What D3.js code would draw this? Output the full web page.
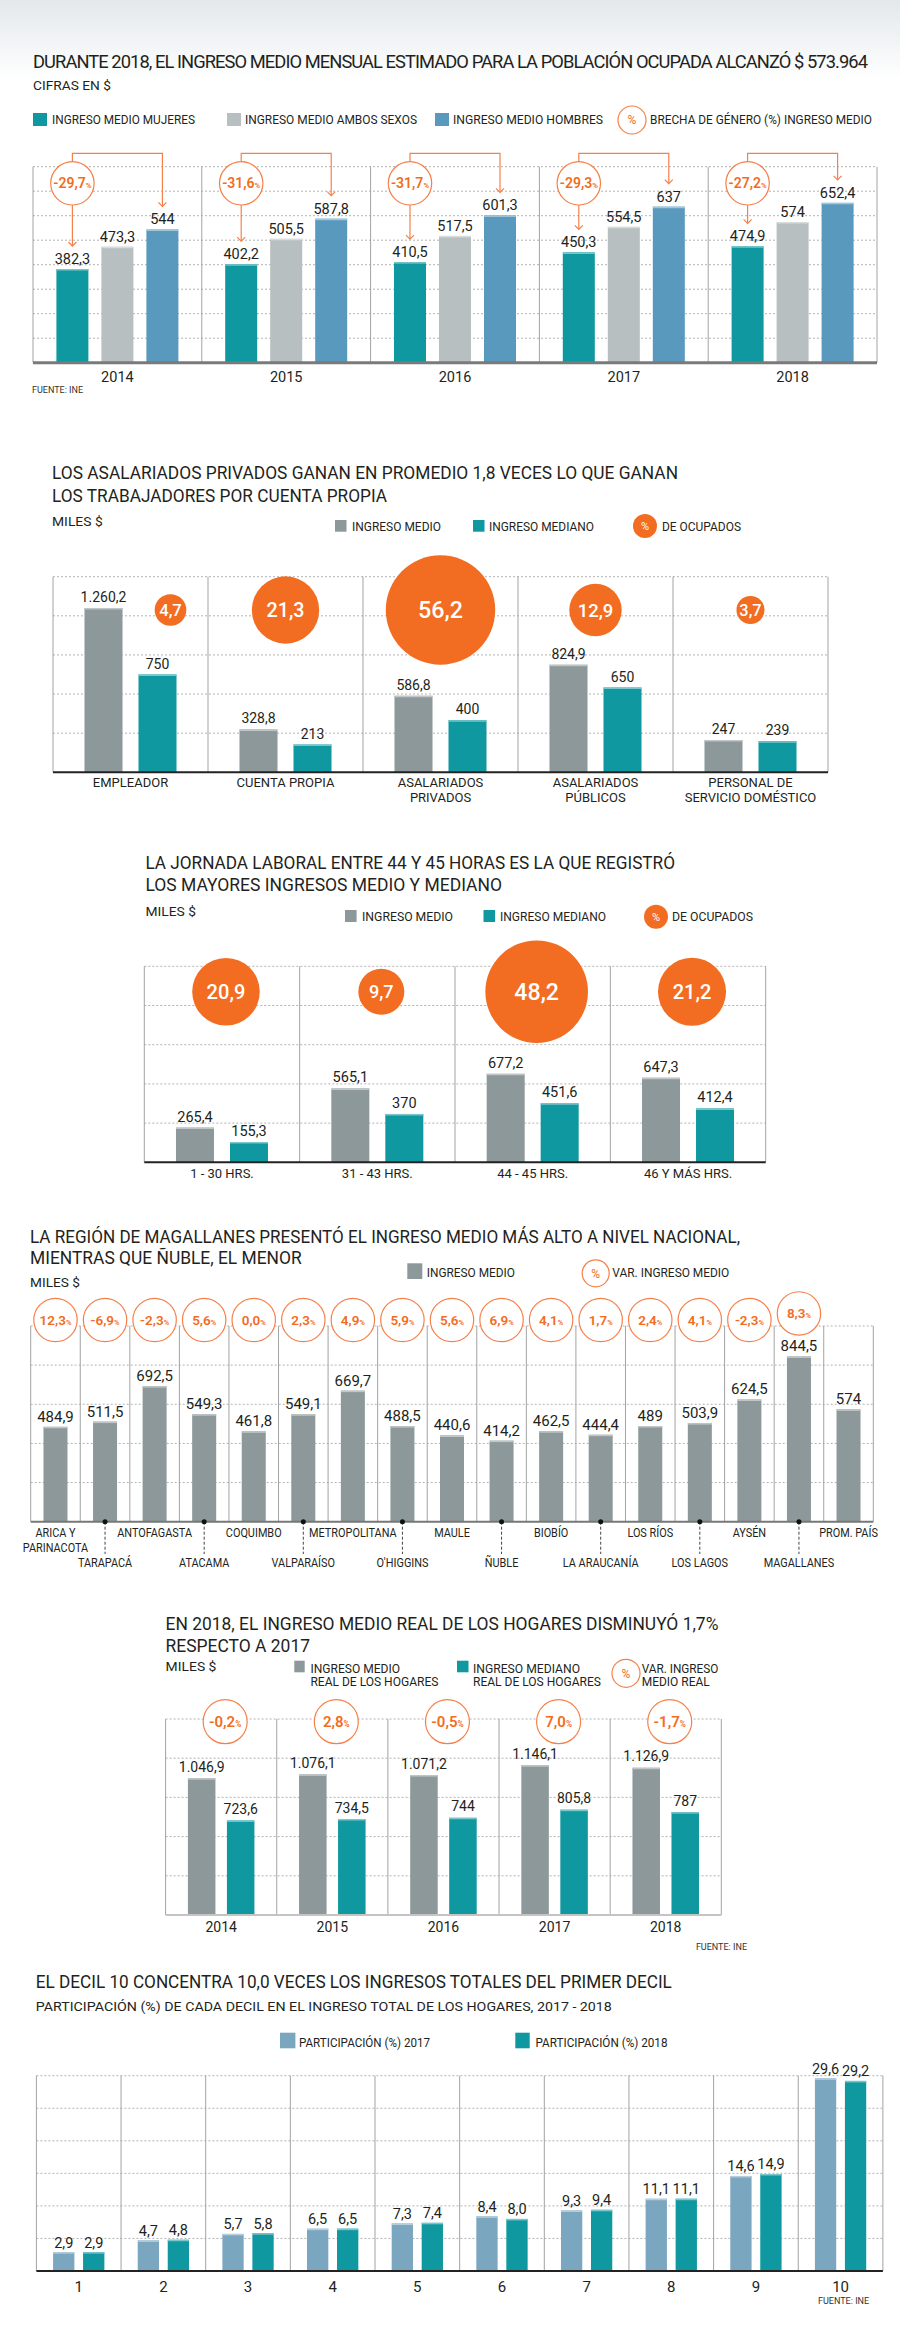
<!DOCTYPE html>
<html><head><meta charset="utf-8">
<script src="https://cdn.jsdelivr.net/npm/d3@7"></script>
<style>body{margin:0;background:#fff} text{font-family:Roboto,"Noto Sans",sans-serif}</style>
</head><body><svg id="c" width="900" height="2330"></svg>
<script>
// ---------- DATA ----------
const c1Years = ["2014","2015","2016","2017","2018"];
const c1Mujeres = [382.3, 402.2, 410.5, 450.3, 474.9];
const c1Ambos = [473.3, 505.5, 517.5, 554.5, 574];
const c1Hombres = [544, 587.8, 601.3, 637, 652.4];
const c1Brecha = [-29.7, -31.6, -31.7, -29.3, -27.2];
const c1Ticks = [100,200,300,400,500,600,700,800];

const c2Cats = [["EMPLEADOR"],["CUENTA PROPIA"],["ASALARIADOS","PRIVADOS"],["ASALARIADOS","PÚBLICOS"],["PERSONAL DE","SERVICIO DOMÉSTICO"]];
const c2Medio = [1260.2, 328.8, 586.8, 824.9, 247];
const c2Mediano = [750, 213, 400, 650, 239];
const c2Ocupados = [4.7, 21.3, 56.2, 12.9, 3.7];
const c2Ticks = [300,600,900,1200,1500];

const c3Cats = ["1 - 30 HRS.","31 - 43 HRS.","44 - 45 HRS.","46 Y MÁS HRS."];
const c3Medio = [265.4, 565.1, 677.2, 647.3];
const c3Mediano = [155.3, 370, 451.6, 412.4];
const c3Ocupados = [20.9, 9.7, 48.2, 21.2];
const c3Ticks = [300,600,900,1200,1500];

const c4Regions = [["ARICA Y","PARINACOTA"],["TARAPACÁ"],["ANTOFAGASTA"],["ATACAMA"],["COQUIMBO"],["VALPARAÍSO"],["METROPOLITANA"],["O'HIGGINS"],["MAULE"],["ÑUBLE"],["BIOBÍO"],["LA ARAUCANÍA"],["LOS RÍOS"],["LOS LAGOS"],["AYSÉN"],["MAGALLANES"],["PROM. PAÍS"]];
const c4Medio = [484.9, 511.5, 692.5, 549.3, 461.8, 549.1, 669.7, 488.5, 440.6, 414.2, 462.5, 444.4, 489, 503.9, 624.5, 844.5, 574];
const c4Var = [12.3, -6.9, -2.3, 5.6, 0.0, 2.3, 4.9, 5.9, 5.6, 6.9, 4.1, 1.7, 2.4, 4.1, -2.3, 8.3, null];
const c4Ticks = [200,400,600,800,1000];

const c5Years = ["2014","2015","2016","2017","2018"];
const c5Medio = [1046.9, 1076.1, 1071.2, 1146.1, 1126.9];
const c5Mediano = [723.6, 734.5, 744, 805.8, 787];
const c5Var = [-0.2, 2.8, -0.5, 7.0, -1.7];
const c5Ticks = [300,600,900,1200,1500];

const c6Deciles = ["1","2","3","4","5","6","7","8","9","10"];
const c6P2017 = [2.9, 4.7, 5.7, 6.5, 7.3, 8.4, 9.3, 11.1, 14.6, 29.6];
const c6P2018 = [2.9, 4.8, 5.8, 6.5, 7.4, 8.0, 9.4, 11.1, 14.9, 29.2];
const c6Ticks = [5,10,15,20,25,30];

// ---------- HELPERS ----------
const svg = d3.select("#c");
const loc = d3.formatLocale({decimal:",", thousands:".", grouping:[3], currency:["$",""], minus:"-"});
const f1 = loc.format(",.1f"), fInt = loc.format(",d");
const fmtVal = v => Number.isInteger(v) ? fInt(v) : f1(v);
const fPct = loc.format(".1f");
const C = {teal:"#0f989f", light:"#b7bfc0", blue:"#5899bd", gray:"#8c9899", orange:"#f26c22", oline:"#f5814a", blue17:"#7ba6c0", text:"#231f20"};

function txt(g, x, y, s, o={}) {
  const t = g.append("text").attr("x",x).attr("y",y).text(s)
    .attr("font-size", o.size||13).attr("fill", o.fill||C.text)
    .attr("text-anchor", o.anchor||"start");
  if (o.weight) t.attr("font-weight", o.weight);
  if (o.ls) t.attr("letter-spacing", o.ls);
  if (o.width) t.attr("textLength", o.width).attr("lengthAdjust","spacingAndGlyphs");
  if (o.k) { const w = t.node().getComputedTextLength(); t.attr("textLength", w*o.k).attr("lengthAdjust","spacingAndGlyphs"); }
  return t;
}
function swatch(g, x, y, w, h, col) {
  g.append("rect").attr("x",x).attr("y",y).attr("width",w).attr("height",h).attr("fill",col);
}
function pctCircle(g, cx, cy, r, filled, size) {
  g.append("circle").attr("cx",cx).attr("cy",cy).attr("r",r)
    .attr("fill", filled ? C.orange : "#fff").attr("stroke", filled ? "none" : C.oline).attr("stroke-width",1.2);
  txt(g, cx, cy + size*0.36, "%", {size:size, anchor:"middle", fill: filled ? "#fff" : C.orange});
}
function valCircle(g, cx, cy, r, v, size) {
  g.append("circle").attr("cx",cx).attr("cy",cy).attr("r",r)
    .attr("fill","#fff").attr("stroke",C.oline).attr("stroke-width",1.2);
  const t = g.append("text").attr("x",cx).attr("y",cy+size*0.36).attr("text-anchor","middle")
    .attr("fill",C.orange).attr("font-size",size).attr("font-weight",600);
  t.append("tspan").text(fPct(v));
  t.append("tspan").attr("font-size",size*0.55).text("%");
}

function groupedChart(o) {
  const g = svg.append("g");
  const x = d3.scaleBand().domain(o.cats.map((d,i)=>i)).range([o.x0, o.x1]);
  const y = d3.scaleLinear().domain([0, o.yMax]).range([o.yBase, o.yTop]);
  const n = o.series.length;
  const span = n*o.barW + (n-1)*o.gap;
  const xi = d3.scaleBand().domain(d3.range(n)).range([-span/2, span/2])
    .paddingInner(n>1 ? o.gap/(o.barW+o.gap) : 0);
  const cx = i => x(i) + x.bandwidth()/2;
  const bx = (i,s) => cx(i) + xi(s);
  g.selectAll(null).data(o.ticks).join("line")
    .attr("x1", o.x0).attr("x2", o.x1).attr("y1", d=>y(d)).attr("y2", d=>y(d))
    .attr("stroke", "#b3b3b3").attr("stroke-width",1).attr("stroke-dasharray","2,2");
  const seps = o.cats.map((d,i)=>x(i)).concat([o.x1]);
  g.selectAll(null).data(seps).join("line")
    .attr("x1", d=>d).attr("x2", d=>d).attr("y1", y(o.yMax)).attr("y2", o.yBase)
    .attr("stroke", "#a3a3a3").attr("stroke-width", 1);
  o.series.forEach((vals, s) => {
    const col = o.colors[s];
    g.selectAll(null).data(vals).join("rect")
      .attr("x", (d,i)=>bx(i,s)).attr("y", d=>y(d))
      .attr("width", xi.bandwidth()).attr("height", d=>o.yBase - y(d))
      .attr("fill", col);
    g.selectAll(null).data(vals).join("line")
      .attr("x1", (d,i)=>bx(i,s)).attr("x2",(d,i)=>bx(i,s)+xi.bandwidth())
      .attr("y1", d=>y(d)+0.75).attr("y2", d=>y(d)+0.75)
      .attr("stroke", d3.interpolateRgb(col, "#fff")(0.45)).attr("stroke-width",1.5);
    g.selectAll(null).data(vals).join("text")
      .attr("x", (d,i)=>bx(i,s)+xi.bandwidth()/2).attr("y", d=>y(d)-o.labelGap)
      .attr("text-anchor","middle").attr("font-size", o.labelSize).attr("fill", C.text)
      .text(o.fmt);
  });
  g.append("line").attr("x1", o.x0).attr("x2", o.x1).attr("y1", o.yBase).attr("y2", o.yBase)
    .attr("stroke", o.baseColor).attr("stroke-width", o.baseW);
  return {g, x, y, xi, cx, bx};
}

// ---------- BACKGROUND ----------
const defs = svg.append("defs");
const lg = defs.append("linearGradient").attr("id","topgrad").attr("x1",0).attr("x2",0).attr("y1",0).attr("y2",1);
lg.append("stop").attr("offset","0%").attr("stop-color","#e3e8eb");
lg.append("stop").attr("offset","100%").attr("stop-color","#ffffff");
svg.append("rect").attr("x",0).attr("y",0).attr("width",900).attr("height",80).attr("fill","url(#topgrad)");

// ---------- CHART 1 ----------
{
  const g = svg.append("g");
  txt(g, 33, 68, "DURANTE 2018, EL INGRESO MEDIO MENSUAL ESTIMADO PARA LA POBLACIÓN OCUPADA ALCANZÓ $ 573.964", {size:18.5, ls:-0.95, width:834});
  txt(g, 33, 90, "CIFRAS EN $", {size:13, width:78});
  swatch(g, 33, 113, 14, 13, C.teal);
  txt(g, 52, 124, "INGRESO MEDIO MUJERES", {size:13, width:143});
  swatch(g, 227, 113, 14, 13, C.light);
  txt(g, 245, 124, "INGRESO MEDIO AMBOS SEXOS", {size:13, width:172});
  swatch(g, 435, 113, 14, 13, C.blue);
  txt(g, 453, 124, "INGRESO MEDIO HOMBRES", {size:13, width:150});
  pctCircle(g, 632, 120, 14, false, 12);
  txt(g, 650, 124, "BRECHA DE GÉNERO (%) INGRESO MEDIO", {size:13, width:222});

  const ch = groupedChart({cats:c1Years, series:[c1Mujeres,c1Ambos,c1Hombres], colors:[C.teal,C.light,C.blue],
    x0:33, x1:877, yTop:166.7, yBase:362.7, yMax:800, ticks:c1Ticks, barW:32, gap:13,
    labelSize:14.5, labelGap:5, fmt:fmtVal, baseColor:"#7a7a7a", baseW:3});
  c1Years.forEach((d,i)=> txt(ch.g, ch.cx(i), 381.7, d, {size:14.5, anchor:"middle"}));
  txt(ch.g, 32, 393, "FUENTE: INE", {size:9, fill:"#333"});

  const r = 21.7, cy = 183.3, topY = 153.3, bw = ch.xi.bandwidth();
  c1Brecha.forEach((v,i)=>{
    const xa = ch.bx(i,0)+bw/2, xb = ch.bx(i,2)+bw/2;
    const ta = ch.y(c1Mujeres[i]) - 23, tb = ch.y(c1Hombres[i]) - 23;
    const ln = d => ch.g.append("path").attr("d", d).attr("fill","none").attr("stroke",C.oline).attr("stroke-width",1.2);
    ln(`M${xa},${cy-r}V${topY}H${xb}V${tb}`);
    ln(`M${xa},${cy+r}V${ta}`);
    ln(`M${xa-4},${ta-4}L${xa},${ta}L${xa+4},${ta-4}`);
    ln(`M${xb-4},${tb-4}L${xb},${tb}L${xb+4},${tb-4}`);
    valCircle(ch.g, xa, cy, r, v, 14);
  });
}

// ---------- CHART 2 ----------
{
  const g = svg.append("g");
  txt(g, 52, 479.3, "LOS ASALARIADOS PRIVADOS GANAN EN PROMEDIO 1,8 VECES LO QUE GANAN", {size:18.5, width:626});
  txt(g, 52, 501.7, "LOS TRABAJADORES POR CUENTA PROPIA", {size:18.5, width:335});
  txt(g, 52, 526, "MILES $", {size:13, width:50.7});
  swatch(g, 335, 520, 11.5, 11.7, C.gray);
  txt(g, 352, 530.7, "INGRESO MEDIO", {size:13, width:89});
  swatch(g, 473, 520, 11.5, 11.7, C.teal);
  txt(g, 489, 530.7, "INGRESO MEDIANO", {size:13, width:105});
  pctCircle(g, 645, 526, 12, true, 11);
  txt(g, 662, 530.7, "DE OCUPADOS", {size:13, width:79});

  const ch = groupedChart({cats:c2Cats, series:[c2Medio,c2Mediano], colors:[C.gray,C.teal],
    x0:53, x1:828, yTop:576.7, yBase:772.3, yMax:1500, ticks:c2Ticks, barW:38, gap:16,
    labelSize:14, labelGap:6, fmt:fmtVal, baseColor:"#222", baseW:2});
  c2Cats.forEach((lines,i)=> lines.forEach((l,j)=> txt(ch.g, ch.cx(i), 786.7 + j*15, l, {size:13, anchor:"middle"})));
  const rs = d3.scaleSqrt().domain([0, 56.2]).range([0, 54.7]);
  c2Ocupados.forEach((v,i)=>{
    const bx = ch.cx(i) + (i===0 ? 40 : 0), by = 610, r = rs(v);
    ch.g.append("circle").attr("cx",bx).attr("cy",by).attr("r",r).attr("fill",C.orange);
    const fs = 14 + r*0.17;
    txt(ch.g, bx, by + fs*0.36, fPct(v), {size:fs, anchor:"middle", fill:"#fff", weight:500});
  });
}

// ---------- CHART 3 ----------
{
  const g = svg.append("g");
  txt(g, 145.4, 869.3, "LA JORNADA LABORAL ENTRE 44 Y 45 HORAS ES LA QUE REGISTRÓ", {size:18.5, width:529.6});
  txt(g, 145.4, 891, "LOS MAYORES INGRESOS MEDIO Y MEDIANO", {size:18.5, width:356.6});
  txt(g, 145.4, 915.7, "MILES $", {size:13, width:50.6});
  swatch(g, 345, 910, 11.6, 12, C.gray);
  txt(g, 362, 921, "INGRESO MEDIO", {size:13, width:91});
  swatch(g, 483.5, 910, 11.6, 12, C.teal);
  txt(g, 500, 921, "INGRESO MEDIANO", {size:13, width:106});
  pctCircle(g, 656, 916.7, 12, true, 11);
  txt(g, 672, 921, "DE OCUPADOS", {size:13, width:81});

  const ch = groupedChart({cats:c3Cats, series:[c3Medio,c3Mediano], colors:[C.gray,C.teal],
    x0:144.3, x1:765.7, yTop:966.3, yBase:1162.3, yMax:1500, ticks:c3Ticks, barW:38, gap:16,
    labelSize:14.5, labelGap:6, fmt:fmtVal, baseColor:"#222", baseW:2});
  c3Cats.forEach((l,i)=> txt(ch.g, ch.cx(i), 1178.3, l, {size:13, anchor:"middle"}));
  const rs = d3.scaleSqrt().domain([0, 48.2]).range([0, 51.3]);
  c3Ocupados.forEach((v,i)=>{
    const bx = ch.cx(i) + 4, by = 991.7, r = rs(v);
    ch.g.append("circle").attr("cx",bx).attr("cy",by).attr("r",r).attr("fill",C.orange);
    const fs = 14 + r*0.18;
    txt(ch.g, bx, by + fs*0.36, fPct(v), {size:fs, anchor:"middle", fill:"#fff", weight:500});
  });
}

// ---------- CHART 4 ----------
{
  const g = svg.append("g");
  txt(g, 30, 1242.7, "LA REGIÓN DE MAGALLANES PRESENTÓ EL INGRESO MEDIO MÁS ALTO A NIVEL NACIONAL,", {size:18.5, width:710});
  txt(g, 30, 1264, "MIENTRAS QUE ÑUBLE, EL MENOR", {size:18.5, width:271.7});
  txt(g, 30, 1286.7, "MILES $", {size:13, width:50});
  swatch(g, 407.3, 1263.3, 15, 15.7, C.gray);
  txt(g, 426.7, 1277.3, "INGRESO MEDIO", {size:13, width:88.3});
  pctCircle(g, 595.7, 1273.3, 13.5, false, 12);
  txt(g, 612.3, 1277.3, "VAR. INGRESO MEDIO", {size:13, width:117});

  const ch = groupedChart({cats:c4Regions, series:[c4Medio], colors:[C.gray],
    x0:30.7, x1:873.3, yTop:1326, yBase:1521.7, yMax:1000, ticks:c4Ticks, barW:24, gap:0,
    labelSize:15, labelGap:5, fmt:fmtVal, baseColor:"#777", baseW:2});
  c4Regions.forEach((lines,i)=>{
    const x = ch.cx(i);
    if (i % 2 === 0) {
      lines.forEach((l,j)=> txt(ch.g, x, 1536.7 + j*15, l, {size:12.5, anchor:"middle", k:0.87}));
    } else {
      ch.g.append("line").attr("x1",x).attr("x2",x).attr("y1",1521.7).attr("y2",1554)
        .attr("stroke","#444").attr("stroke-dasharray","3,2");
      ch.g.append("circle").attr("cx",x).attr("cy",1521.7).attr("r",2.5).attr("fill","#111");
      txt(ch.g, x, 1567.3, lines[0], {size:12.5, anchor:"middle", k:0.87});
    }
  });
  c4Var.forEach((v,i)=>{
    if (v === null) return;
    const cy = Math.min(1320, ch.y(c4Medio[i]) - 43);
    valCircle(ch.g, ch.cx(i), cy, 21.7, v, 13.5);
  });
}

// ---------- CHART 5 ----------
{
  const g = svg.append("g");
  txt(g, 165.6, 1630, "EN 2018, EL INGRESO MEDIO REAL DE LOS HOGARES DISMINUYÓ 1,7%", {size:18.5, width:552.8});
  txt(g, 165.6, 1652.3, "RESPECTO A 2017", {size:18.5, width:144.4});
  txt(g, 165.6, 1671, "MILES $", {size:13, width:50.8});
  swatch(g, 294.3, 1660.7, 10.4, 11.6, C.gray);
  txt(g, 310.4, 1672.7, "INGRESO MEDIO", {size:13, width:89.6});
  txt(g, 310.4, 1686, "REAL DE LOS HOGARES", {size:13, width:128});
  swatch(g, 457, 1660.7, 11.5, 11.6, C.teal);
  txt(g, 473, 1672.7, "INGRESO MEDIANO", {size:13, width:107});
  txt(g, 473, 1686, "REAL DE LOS HOGARES", {size:13, width:128});
  pctCircle(g, 626, 1673.3, 14, false, 12);
  txt(g, 641.7, 1672.7, "VAR. INGRESO", {size:13, width:76.7});
  txt(g, 641.7, 1686, "MEDIO REAL", {size:13, width:68});

  const ch = groupedChart({cats:c5Years, series:[c5Medio,c5Mediano], colors:[C.gray,C.teal],
    x0:165.6, x1:721.3, yTop:1719, yBase:1915, yMax:1500, ticks:c5Ticks, barW:27.5, gap:11.5,
    labelSize:14, labelGap:6.5, fmt:fmtVal, baseColor:"#c4c4c4", baseW:2});
  c5Years.forEach((d,i)=> txt(ch.g, ch.cx(i), 1931.7, d, {size:14, anchor:"middle"}));
  c5Var.forEach((v,i)=> valCircle(ch.g, ch.cx(i)+4, 1721.7, 22, v, 15));
  txt(ch.g, 747, 1950, "FUENTE: INE", {size:9, anchor:"end", fill:"#333"});
}

// ---------- CHART 6 ----------
{
  const g = svg.append("g");
  txt(g, 35.8, 1988.3, "EL DECIL 10 CONCENTRA 10,0 VECES LOS INGRESOS TOTALES DEL PRIMER DECIL", {size:18.5, width:636});
  txt(g, 35.8, 2011, "PARTICIPACIÓN (%) DE CADA DECIL EN EL INGRESO TOTAL DE LOS HOGARES, 2017 - 2018", {size:13, width:576});
  swatch(g, 280, 2032.7, 15.4, 15.6, C.blue17);
  txt(g, 299, 2047.3, "PARTICIPACIÓN (%) 2017", {size:13, width:131});
  swatch(g, 515.3, 2032.7, 14.4, 15.6, C.teal);
  txt(g, 535.5, 2047.3, "PARTICIPACIÓN (%) 2018", {size:13, width:132});

  const ch = groupedChart({cats:c6Deciles, series:[c6P2017,c6P2018], colors:[C.blue17,C.teal],
    x0:36.4, x1:882.9, yTop:2075.7, yBase:2271, yMax:30, ticks:c6Ticks, barW:21.3, gap:8.7,
    labelSize:14.5, labelGap:4.6, fmt:d=>fPct(d), baseColor:"#222", baseW:2});
  c6Deciles.forEach((d,i)=> txt(ch.g, ch.cx(i), 2291.7, d, {size:15, anchor:"middle"}));
  txt(ch.g, 843.6, 2304, "FUENTE: INE", {size:9, anchor:"middle", fill:"#333"});
}
</script></body></html>
